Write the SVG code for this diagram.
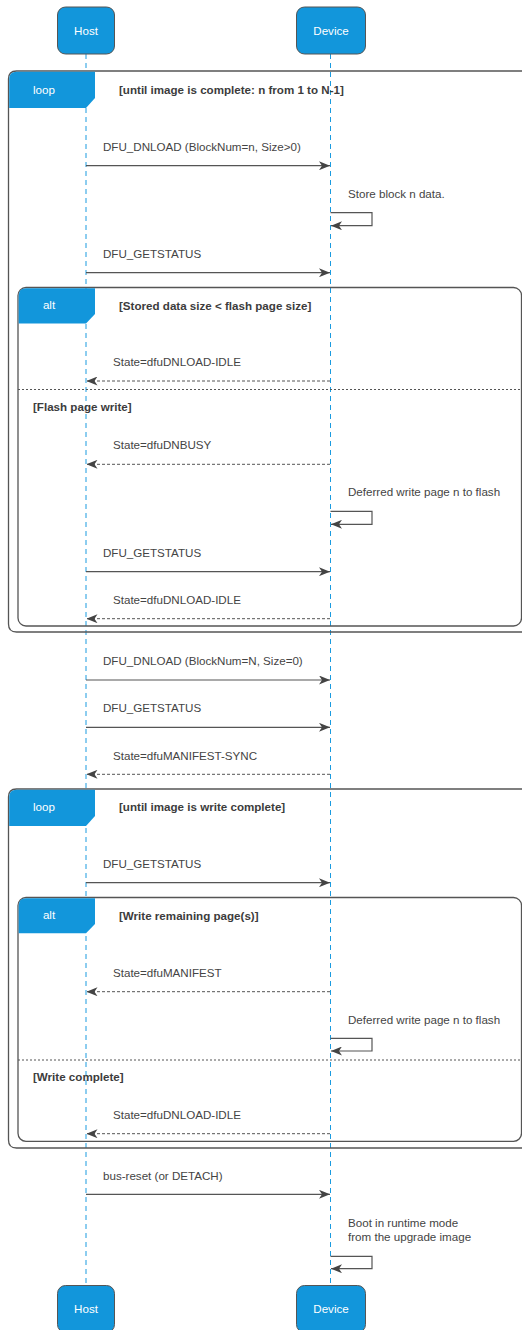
<svg xmlns="http://www.w3.org/2000/svg" width="522" height="1330" viewBox="0 0 522 1330">
<defs>
<style>
text{font-family:"Liberation Sans",Arial,sans-serif;font-size:11.6px}
.msg{fill:#444}
.guard{fill:#3c3c3c;font-weight:bold}
.wt{fill:#fff;text-anchor:middle}
.life{stroke:#1a9be0;stroke-width:1;stroke-dasharray:5 4;fill:none}
.actor{fill:#1296db;stroke:#555;stroke-width:1}
.frame{fill:none;stroke:#555;stroke-width:1.3}
.fhdr{fill:#1296db}
.sep{stroke:#555;stroke-width:1;stroke-dasharray:2 2;fill:none}
.call{stroke:#555;stroke-width:1.2;fill:none;marker-end:url(#ah)}
.ret{stroke:#555;stroke-width:1;stroke-dasharray:3 2;fill:none;marker-end:url(#ah)}
</style>
<marker id="ah" viewBox="0 0 11 9" refX="11" refY="4.5" markerWidth="11" markerHeight="9" markerUnits="userSpaceOnUse" orient="auto">
<path d="M0,0 L11,4.5 L0,9 L3,4.5 Z" fill="#444" stroke="none"/>
</marker>
</defs>

<g id="lifelines">
<line class="life" x1="86" y1="54" x2="86" y2="1285"/>
<line class="life" x1="330.5" y1="54" x2="330.5" y2="1285"/>
</g>

<g id="loop1">
<path class="frame" d="M530,71 H16.5 Q8.5,71 8.5,79 V624 Q8.5,632 16.5,632 H530"/>
<path class="fhdr" d="M9.2,79 Q9.2,71.7 16.5,71.7 L95,71.7 L95,98 L86,108 L9.2,108 Z"/>
<text class="wt" x="44" y="94">loop</text>
<text class="guard" x="119" y="94">[until image is complete: n from 1 to N-1]</text>
</g>

<g id="alt1">
<rect class="frame" x="18" y="287.5" width="503.5" height="338.5" rx="8"/>
<path class="fhdr" d="M18.7,295.5 Q18.7,288.2 26,288.2 L95,288.2 L95,314 L86,323.5 L18.7,323.5 Z"/>
<text class="wt" x="49" y="309">alt</text>
<text class="guard" x="119" y="310">[Stored data size &lt; flash page size]</text>
<line class="sep" x1="18" y1="389.5" x2="522" y2="389.5"/>
<text class="guard" x="33" y="411">[Flash page write]</text>
</g>

<g id="loop2">
<path class="frame" d="M530,789 H16.5 Q8.5,789 8.5,797 V1140 Q8.5,1148 16.5,1148 H530"/>
<path class="fhdr" d="M9.2,797 Q9.2,789.7 16.5,789.7 L95,789.7 L95,816 L86,826 L9.2,826 Z"/>
<text class="wt" x="44" y="811">loop</text>
<text class="guard" x="119" y="811">[until image is write complete]</text>
</g>

<g id="alt2">
<rect class="frame" x="18" y="897.5" width="503.5" height="243.8" rx="8"/>
<path class="fhdr" d="M18.7,905.5 Q18.7,898.2 26,898.2 L95,898.2 L95,924 L86,933.3 L18.7,933.3 Z"/>
<text class="wt" x="49" y="919">alt</text>
<text class="guard" x="119" y="920">[Write remaining page(s)]</text>
<line class="sep" x1="18" y1="1060" x2="522" y2="1060"/>
<text class="guard" x="33" y="1081">[Write complete]</text>
</g>

<g id="host-top"><rect class="actor" x="57.5" y="7" width="57" height="47" rx="8"/><text class="wt" x="86" y="35">Host</text></g>
<g id="device-top"><rect class="actor" x="296.5" y="7" width="69" height="47" rx="8"/><text class="wt" x="331" y="35">Device</text></g>
<g id="host-bottom"><rect class="actor" x="57.5" y="1285.5" width="57" height="47" rx="8"/><text class="wt" x="86" y="1313">Host</text></g>
<g id="device-bottom"><rect class="actor" x="296.5" y="1285.5" width="69" height="47" rx="8"/><text class="wt" x="331" y="1313">Device</text></g>

<g id="connectors">
<line class="call" x1="86" y1="165.7" x2="330" y2="165.7"/>
<path class="call" d="M330.5,212.7 H372 V225.7 H331"/>
<line class="call" x1="86" y1="272.7" x2="330" y2="272.7"/>
<line class="ret" x1="330" y1="381" x2="86.5" y2="381"/>
<line class="ret" x1="330" y1="464.3" x2="86.5" y2="464.3"/>
<path class="call" d="M330.5,511.3 H372 V524.3 H331"/>
<line class="call" x1="86" y1="571.7" x2="330" y2="571.7"/>
<line class="ret" x1="330" y1="618.7" x2="86.5" y2="618.7"/>
<line class="call" x1="86" y1="680" x2="330" y2="680"/>
<line class="call" x1="86" y1="727.3" x2="330" y2="727.3"/>
<line class="ret" x1="330" y1="774.3" x2="86.5" y2="774.3"/>
<line class="call" x1="86" y1="882.7" x2="330" y2="882.7"/>
<line class="ret" x1="330" y1="991.7" x2="86.5" y2="991.7"/>
<path class="call" d="M330.5,1038.3 H372 V1051 H331"/>
<line class="ret" x1="330" y1="1133.7" x2="86.5" y2="1133.7"/>
<line class="call" x1="86" y1="1194.3" x2="330" y2="1194.3"/>
<path class="call" d="M330.5,1256.3 H372 V1268.7 H331"/>
</g>

<g id="labels">
<text class="msg" x="103" y="151">DFU_DNLOAD (BlockNum=n, Size&gt;0)</text>
<text class="msg" x="348" y="198">Store block n data.</text>
<text class="msg" x="103" y="258">DFU_GETSTATUS</text>
<text class="msg" x="113" y="366">State=dfuDNLOAD-IDLE</text>
<text class="msg" x="113" y="449">State=dfuDNBUSY</text>
<text class="msg" x="348" y="496">Deferred write page n to flash</text>
<text class="msg" x="103" y="557">DFU_GETSTATUS</text>
<text class="msg" x="113" y="604">State=dfuDNLOAD-IDLE</text>
<text class="msg" x="103" y="664.5">DFU_DNLOAD (BlockNum=N, Size=0)</text>
<text class="msg" x="103" y="712">DFU_GETSTATUS</text>
<text class="msg" x="113" y="759.5">State=dfuMANIFEST-SYNC</text>
<text class="msg" x="103" y="868">DFU_GETSTATUS</text>
<text class="msg" x="113" y="977">State=dfuMANIFEST</text>
<text class="msg" x="348" y="1024">Deferred write page n to flash</text>
<text class="msg" x="113" y="1119">State=dfuDNLOAD-IDLE</text>
<text class="msg" x="103" y="1180">bus-reset (or DETACH)</text>
<text class="msg" x="348" y="1227">Boot in runtime mode</text>
<text class="msg" x="348" y="1241">from the upgrade image</text>
</g>
</svg>
